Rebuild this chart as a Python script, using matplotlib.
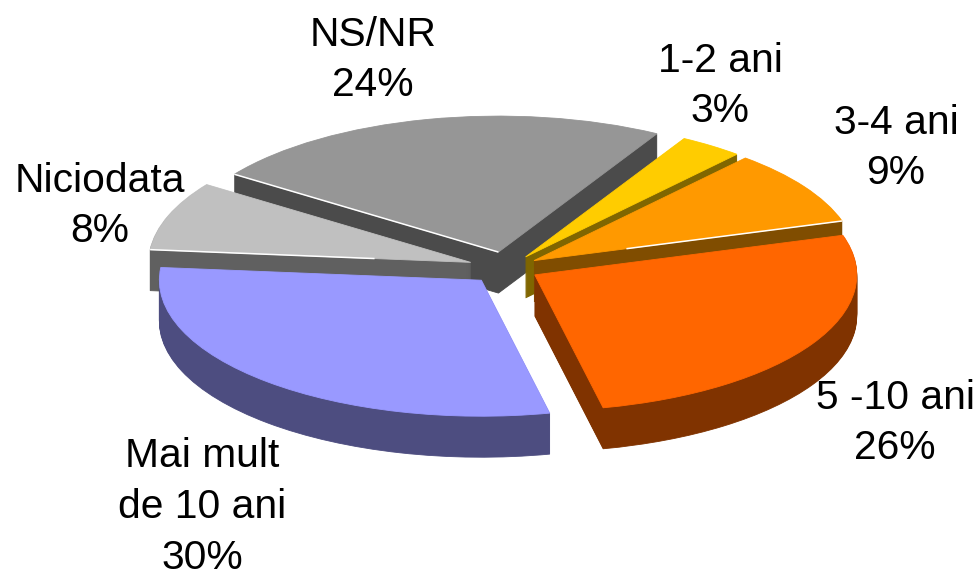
import matplotlib
matplotlib.use("Agg")
import matplotlib.pyplot as plt
import numpy as np

# slices, clockwise from the top right
categories = ["1-2 ani", "3-4 ani", "5 -10 ani", "Mai mult\nde 10 ani", "Niciodata", "NS/NR"]
values = [3.2, 8.9, 26.3, 29.9, 8.2, 23.5]
top_colors = ["#FFCC00", "#FF9900", "#FF6600", "#9999FF", "#C0C0C0", "#969696"]
side_colors = ["#806600", "#804D00", "#803300", "#4D4D80", "#606060", "#4B4B4B"]
explode = [0.1, 0.1, 0.1, 0.12, 0.12, 0.12]
draw_order = [2, 3, 4, 5, 1, 0]  # back slices first
start = 60.5

# pixel geometry of the pie
W, H = 975, 575
cx, cy = 507, 268
rx, ry = 322, 136
depth = 41

label_pos = [(720, 86), (896, 148), (895, 423), (202, 507), (100, 206), (373, 60)]
# thin white edges: slice -> (index of boundary angle, fraction where the line stops)
highlight = {1: (1, 0.3), 4: (3, 0.3), 5: (4, 0.0)}

plt.rcParams["font.family"] = ["Liberation Sans", "DejaVu Sans"]
fig = plt.figure(figsize=(W / 100, H / 100), dpi=100)
ax = fig.add_axes([0, 0, 1, 1])


def draw_layer(colors, shift, offset):
    wedges, _ = ax.pie(values, colors=colors, explode=explode, startangle=start,
                       counterclock=False, center=(0, -shift), radius=1)
    for i, w in enumerate(wedges):
        w.set_zorder(draw_order[i] + offset)
        w.set_linewidth(0.6)
        w.set_edgecolor(colors[i])


# side wall is a stack of darker pies, 1px apart
for px in range(depth, 0, -1):
    draw_layer(side_colors, px / ry, 1)
draw_layer(top_colors, 0, 1.5)

edges = start - np.cumsum(values) * 3.6
for i, (e, frac) in highlight.items():
    a = np.radians(edges[e])
    mid = np.radians(edges[i] + values[i] * 1.8)
    tx, ty = explode[i] * np.cos(mid), explode[i] * np.sin(mid)
    ax.plot([tx + np.cos(a), tx + frac * np.cos(a)], [ty + np.sin(a), ty + frac * np.sin(a)],
            color="white", lw=1.1, zorder=draw_order[i] + 1.6, solid_capstyle="butt")

ax.set_aspect("auto")
ax.set_xlim(-cx / rx, (W - cx) / rx)
ax.set_ylim((cy - H) / ry, cy / ry)
ax.axis("off")

for cat, val, (px, py) in zip(categories, values, label_pos):
    ax.text((px - cx) / rx, (cy - py) / ry, f"{cat}\n{val:.0f}%", ha="center", va="center",
            fontsize=29.3, color="black", zorder=20, linespacing=1.43)

fig.savefig("out.png", dpi=100, facecolor="white")
